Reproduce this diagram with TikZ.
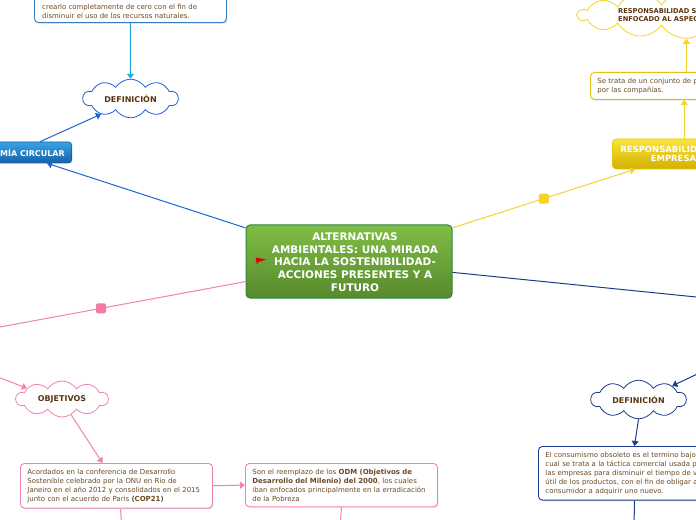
\documentclass[tikz,border=0pt]{standalone}
\usepackage{fontspec}
\setmainfont{DejaVu Sans}
\usetikzlibrary{shapes.symbols,arrows.meta,shadows,calc}
\definecolor{txtbrown}{HTML}{6B4A25}
\definecolor{cldbrown}{HTML}{5A3510}
\definecolor{ltblue}{HTML}{1EAAE6}
\definecolor{midblue}{HTML}{1E63D4}
\definecolor{boxblue}{HTML}{3A7CC4}
\definecolor{ecotop}{HTML}{3AA2E6}
\definecolor{ecobot}{HTML}{1462A8}
\definecolor{ecobord}{HTML}{1A5A98}
\definecolor{grtop}{HTML}{80BD45}
\definecolor{grbot}{HTML}{578A2C}
\definecolor{grbord}{HTML}{2E8540}
\definecolor{yline}{HTML}{F6D22A}
\definecolor{ytop}{HTML}{FBE53C}
\definecolor{ybot}{HTML}{D2B000}
\definecolor{ybord}{HTML}{E2C20A}
\definecolor{navy}{HTML}{1B3C8C}
\definecolor{pinkc}{HTML}{F282AE}
\definecolor{pinkm}{HTML}{F07CA6}
\begin{document}
\begin{tikzpicture}[x=1bp,y=-1bp,
 body/.style={font=\fontsize{7}{9}\selectfont, text=txtbrown},
 tbox/.style={draw=#1, fill=white, rounded corners=4bp, line width=0.9bp, text width=178bp, align=left, inner xsep=7bp, inner ysep=5.5bp, body, drop shadow={opacity=0.22, shadow xshift=1bp, shadow yshift=-1.3bp}},
 cloudn/.style={cloud, cloud puffs=10, cloud puff arc=115, aspect=2.7, draw=#1, fill=white, line width=0.8bp, minimum width=95bp, minimum height=34bp, inner sep=0pt, font=\bfseries\fontsize{8}{10}\selectfont, text=cldbrown, align=center},
 conn/.style={draw=#1, line width=1bp, -{Triangle[length=5bp,width=7bp]}},
 link/.style={draw=#1, line width=1bp},
 sqmark/.style={fill=#1, rounded corners=1.5bp, minimum size=10bp, inner sep=0pt},
 ecost/.style={shade, top color=ecotop, bottom color=ecobot, draw=ecobord, line width=0.6bp, rounded corners=3bp, text=white, font=\bfseries\fontsize{8}{10}\selectfont, minimum height=21bp, inner xsep=7bp},
 rootst/.style={shade, top color=grtop, bottom color=grbot, draw=grbord, line width=1bp, rounded corners=4bp, minimum width=206bp, minimum height=73bp},
 roottxt/.style={text=white, font=\bfseries\fontsize{10.5}{12.7}\selectfont, align=center, inner sep=0pt},
 respst/.style={shade, top color=ytop, bottom color=ybot, draw=ybord, line width=0.6bp, rounded corners=4bp, text=white, font=\bfseries\fontsize{8.5}{9.5}\selectfont, align=center, minimum width=144bp, minimum height=30bp},
 ]
\useasboundingbox (0,0) rectangle (696,520);
\clip (0,0) rectangle (696,520);

% ---- blue branch
\node[tbox=boxblue, minimum height=50bp, anchor=south west] (tlbox) at (34,23) {};
\node[body, anchor=south west, align=left, inner sep=0pt] (tltxt) at (42,18.5) {crearlo completamente de cero con el fin de\\disminuir el uso de los recursos naturales.};
\node[cloudn=midblue] (def1) at (130.5,98.5) {DEFINICIÓN};
\draw[conn=ltblue] (tlbox.south) -- (def1.north);
\node[ecost, anchor=east] (eco) at (72,152.5) {ECONOMÍA CIRCULAR};

% ---- root
\node[rootst] (root) at (349,261.5) {};
\node[roottxt] (roottext) at (355,262) {ALTERNATIVAS\\AMBIENTALES: UNA MIRADA\\HACIA LA SOSTENIBILIDAD-\\ACCIONES PRESENTES Y A\\FUTURO};
\fill[red!90!black] (255.5,257.5) -- (266,259.5) -- (258.5,262) -- (257,264.5) -- cycle;

\draw[conn=midblue] (root.162) -- ($(eco.south east)+(-25,0)$);
\draw[conn=midblue] ($(eco.north east)+(-32,0)$) -- (def1.208);

% ---- yellow branch
\node[respst, anchor=west] (resp) at (612,154) {RESPONSABILIDAD SOCIAL\\EMPRESARIAL};
\draw[conn=yline] (root.18) -- node[sqmark=yline, pos=0.5] (ymk) {} ($(resp.south west)+(23,0)$);
\node[tbox=ybord, anchor=north west] (ybox) at (590,72) {Se trata de un conjunto de prácticas adoptadas\\por las compañías.};
\draw[conn=yline] (resp.north) -- (resp.north |- ybox.south);
\node[cloudn=yline, cloud puffs=14, aspect=8, minimum width=216bp, minimum height=34bp, font=\bfseries\fontsize{6.7}{8}\selectfont, align=left] (ycloud) at (686,15) {RESPONSABILIDAD SOCIAL\\ENFOCADO AL ASPECTO AMBIENTAL};
\draw[conn=yline] (ybox.north) -- (ybox.north |- ycloud.south);

% ---- navy branch
\coordinate (navyend) at (720,299.4);
\draw[link=navy] (root.-6) -- (navyend);
\node[cloudn=navy] (def2) at (638.5,399.5) {DEFINICIÓN};
\coordinate (navyin) at (710,368);
\draw[conn=navy] (navyin) -- (def2.22);
\node[tbox=navy, anchor=north west] (nbox) at (538,446) {El consumismo obsoleto es el termino bajo el\\cual se trata a la táctica comercial usada por\\las empresas para disminuir el tiempo de vida\\útil de los productos, con el fin de obligar al\\consumidor a adquirir uno nuevo.};
\draw[conn=navy] (def2.south) -- (nbox.north);
\coordinate (nboxend) at (634,530);
\draw[link=navy] (nbox.south) -- (nboxend);

% ---- pink branch
\coordinate (pinkend) at (-20,330.7);
\draw[link=pinkc] (root.191) -- node[sqmark=pinkm, pos=0.544] (pmk) {} (pinkend);
\node[cloudn=pinkc, minimum width=92bp, minimum height=36bp] (obj) at (62,399) {OBJETIVOS};
\coordinate (pinkin) at (-20,370);
\draw[conn=pinkc] (pinkin) -- (obj.163);
\node[tbox=pinkc, anchor=north west] (pb1) at (20,463) {Acordados en la conferencia de Desarrollo\\Sostenible celebrado por la ONU en Rio de\\Janeiro en el año 2012 y consolidados en el 2015\\junto con el acuerdo de Paris \textbf{(COP21)}};
\draw[conn=pinkc] (obj.-60) -- ($(pb1.north)+(-14,0)$);
\node[tbox=pinkc, anchor=north west] (pb2) at (245,463) {Son el reemplazo de los \textbf{ODM (Objetivos de}\\\textbf{Desarrollo del Milenio) del 2000}, los cuales\\iban enfocados principalmente en la erradicación\\de la Pobreza};
\draw[conn=pinkc] (pb1.east) -- (pb2.west);
\coordinate (pb1end) at (122,530);
\draw[link=pinkc] ($(pb1.south)+(4,0)$) -- (pb1end);
\coordinate (pb2end) at (340,530);
\draw[link=pinkc] (pb2.south) -- (pb2end);
\end{tikzpicture}
\end{document}
